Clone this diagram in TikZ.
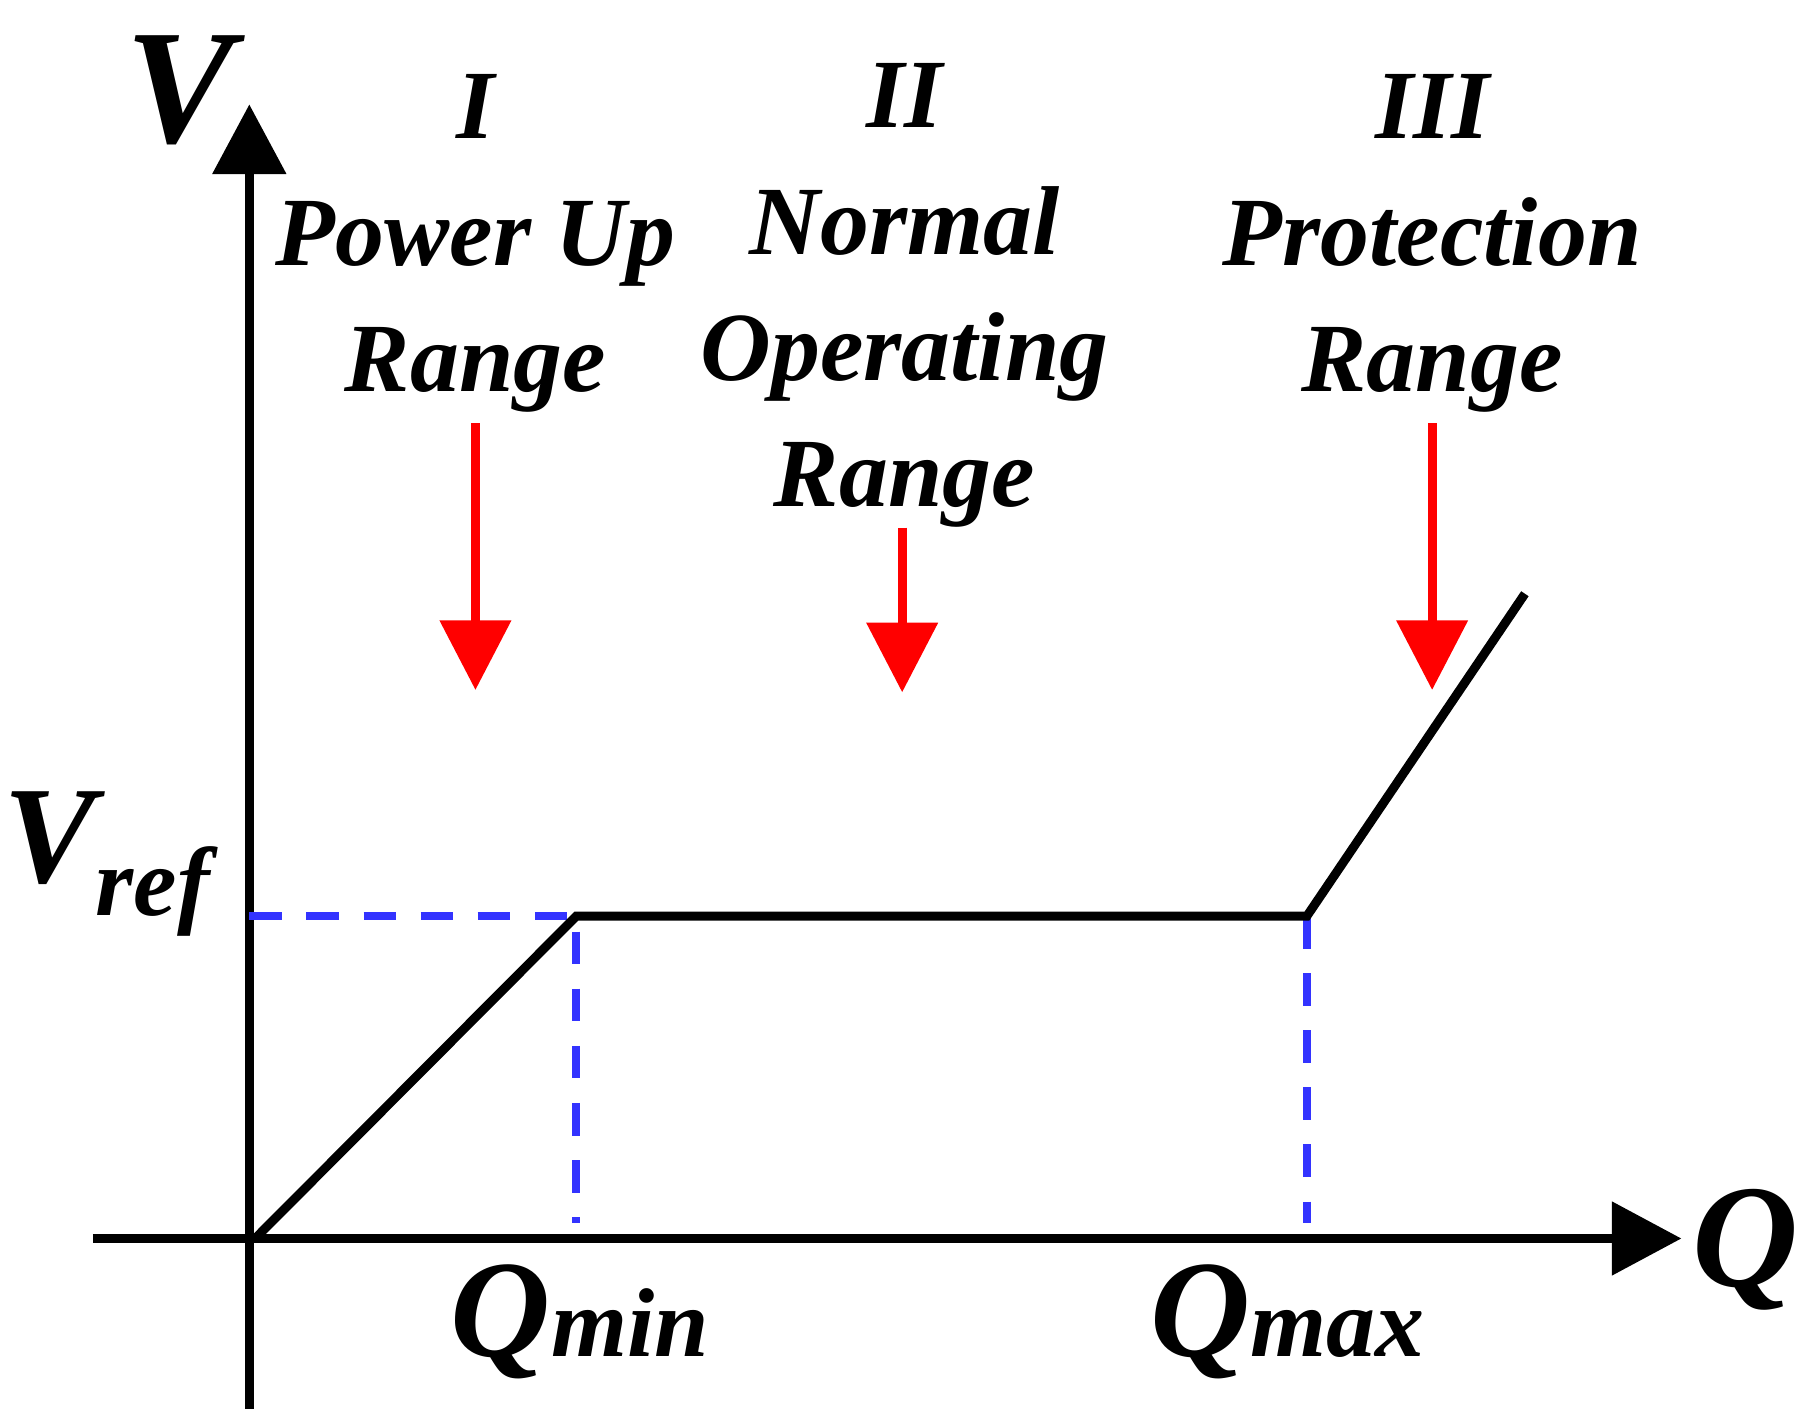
\documentclass[tikz,border=0pt]{standalone}
\usepackage{fontspec}
\setmainfont{Liberation Serif}
\usetikzlibrary{arrows.meta}
\tikzset{
  lbl/.style={font=\fontsize{24}{27}\selectfont\bfseries\itshape, align=center, inner sep=0pt},
  axis/.style={line width=2.2pt, -{Triangle[length=0.6cm, width=0.62cm]}},
  curve/.style={line width=2.2pt, line join=miter},
  guide/.style={blue!80!white, line width=2pt, dash pattern=on 8pt off 6pt},
  rangearrow/.style={red, line width=2.2pt, -{Triangle[length=0.6cm, width=0.6cm]}}
}
\begin{document}
\begin{tikzpicture}[x=0.01cm, y=-0.01cm]
\useasboundingbox (0,0) rectangle (1560,1229);
% axes
\coordinate (vbot) at (215,1215);
\coordinate (vtop) at (215,90);
\coordinate (qleft) at (80,1068);
\coordinate (qright) at (1450,1068);
\draw[axis] (vbot) -- (vtop);
\draw[axis] (qleft) -- (qright);
% characteristic
\coordinate (o) at (220,1068);
\coordinate (kmin) at (497,790);
\coordinate (kmax) at (1127,790);
\coordinate (kend) at (1315,512);
\coordinate (vref) at (215,790);
\coordinate (qmin) at (497,1055);
\coordinate (qmax) at (1127,1055);
\draw[guide] (vref) -- (kmin) -- (qmin);
\draw[guide] (kmax) -- (qmax);
\draw[curve] (o) -- (kmin) -- (kmax) -- (kend);
% labels
\node (V) [lbl, font=\fontsize{40}{44}\selectfont\bfseries\itshape] at (155,78) {V};
\node (Q) [lbl, font=\fontsize{36}{40}\selectfont\bfseries\itshape] at (1505,1078) {Q};
\node (Vref) [lbl, font=\fontsize{34}{38}\selectfont\bfseries\itshape] at (92,745) {V\raisebox{-8pt}{\fontsize{24}{27}\selectfont ref}};
\node (Qmin) [lbl, font=\fontsize{34}{38}\selectfont\bfseries\itshape] at (500,1140) {Q\fontsize{24}{27}\selectfont min};
\node (Qmax) [lbl, font=\fontsize{34}{38}\selectfont\bfseries\itshape] at (1110,1140) {Q\fontsize{24}{27}\selectfont max};
\node (r1) [lbl] at (410,210) {I\\[4pt]Power Up\\[4pt]Range};
\node (r2) [lbl] at (780,255) {II\\[4pt]Normal\\[4pt]Operating\\[4pt]Range};
\node (r3) [lbl] at (1235,210) {III\\[4pt]Protection\\[4pt]Range};
% range arrows
\coordinate (a1) at (410,365);
\coordinate (b1) at (410,595);
\coordinate (a2) at (778,455);
\coordinate (b2) at (778,597);
\coordinate (a3) at (1235,365);
\coordinate (b3) at (1235,595);
\draw[rangearrow] (a1) -- (b1);
\draw[rangearrow] (a2) -- (b2);
\draw[rangearrow] (a3) -- (b3);
\end{tikzpicture}
\end{document}
